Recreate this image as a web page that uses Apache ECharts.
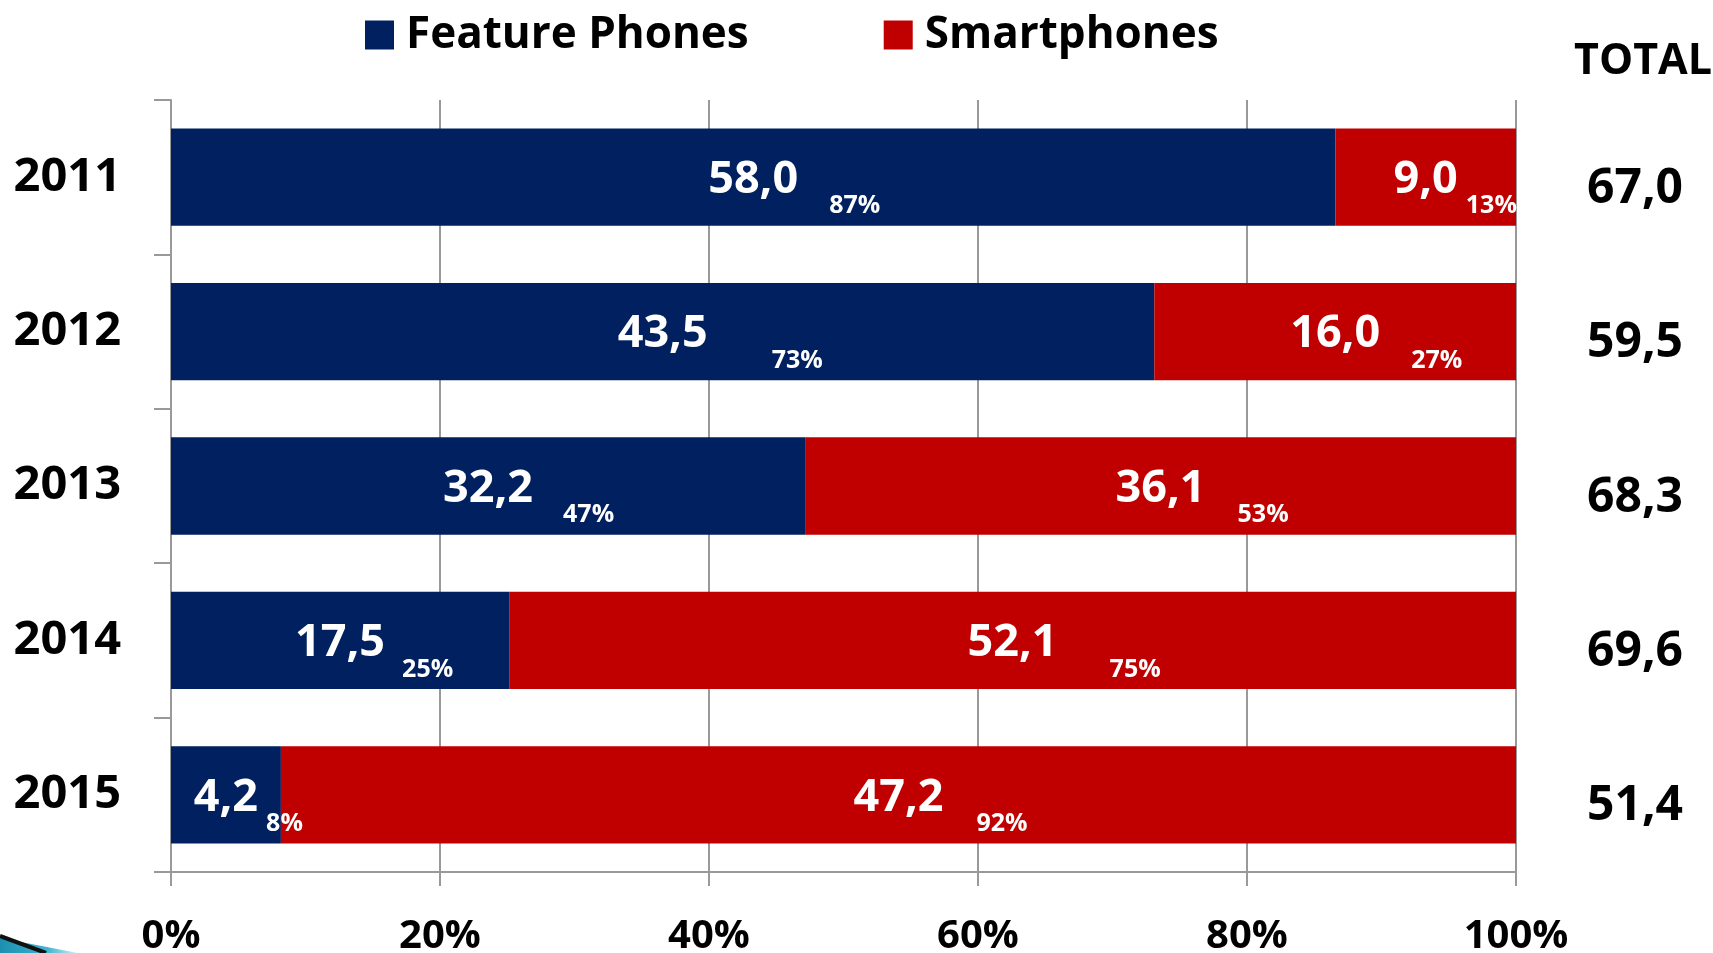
<!DOCTYPE html>
<html>
<head>
<meta charset="utf-8">
<script src="https://cdn.jsdelivr.net/npm/echarts@6/dist/echarts.min.js"></script>
<style>
  html, body { margin: 0; padding: 0; background: #ffffff; }
  #chart { width: 1713px; height: 953px; }
</style>
</head>
<body>
<div id="chart"></div>
<script>
// data
const years = ['2011', '2012', '2013', '2014', '2015'];
const featurePhones = [58.0, 43.5, 32.2, 17.5, 4.2];
const smartphones = [9.0, 16.0, 36.1, 52.1, 47.2];
const seriesNames = ['Feature Phones', 'Smartphones'];

// gap between each value and its small percentage (layout only)
const featureGap = [31, 64, 30, 17, 8];
const smartGap = [8, 31, 32, 52, 33];

const FONT = "'Open Sans', sans-serif";
const NAVY = '#002060';
const RED = '#C00000';
const GREY = '#999999';

const totals = featurePhones.map((v, i) => v + smartphones[i]);
const featureShare = featurePhones.map((v, i) => v / totals[i] * 100);
const smartShare = smartphones.map((v, i) => v / totals[i] * 100);

const fmt = v => v.toFixed(1).replace('.', ',');

// big value centred in the bar, percentage hanging to the right of it
function makeLabel(values, gaps) {
  const rich = {
    v: { fontSize: 45, fontWeight: 'bold', color: '#fff', fontFamily: FONT, padding: [6, 0, 0, 0] }
  };
  gaps.forEach((g, i) => {
    rich['l' + i] = { fontSize: 25, fontWeight: 'bold', color: 'rgba(0,0,0,0)', fontFamily: FONT, padding: [58, g, 0, 0] };
    rich['r' + i] = { fontSize: 25, fontWeight: 'bold', color: '#fff', fontFamily: FONT, padding: [58, 0, 0, g] };
  });
  return {
    show: true,
    position: 'inside',
    textBorderWidth: 0,
    rich: rich,
    formatter: p => {
      const i = p.dataIndex;
      const pc = Math.round(p.value) + '%';
      return '{l' + i + '|' + pc + '}{v|' + fmt(values[i]) + '}{r' + i + '|' + pc + '}';
    }
  };
}

const chart = echarts.init(document.getElementById('chart'));

chart.setOption({
  animation: false,
  backgroundColor: '#ffffff',
  title: {
    text: 'TOTAL',
    left: 1574,
    top: 40,
    padding: 0,
    textStyle: { fontSize: 43, fontWeight: 'bold', color: '#000', fontFamily: FONT }
  },
  legend: {
    data: seriesNames,
    left: 365,
    top: 13,
    padding: 0,
    icon: 'rect',
    itemWidth: 29,
    itemHeight: 29,
    itemGap: 135,
    textStyle: { fontSize: 44, fontWeight: 'bold', color: '#000', fontFamily: FONT, padding: [0, 0, 0, 7] }
  },
  grid: { left: 171, right: 197, top: 100, bottom: 81, outerBoundsMode: 'none' },
  xAxis: {
    type: 'value',
    min: 0,
    max: 100,
    interval: 20,
    axisLabel: { formatter: '{value}%', fontSize: 40, fontWeight: 'bold', color: '#000', fontFamily: FONT, margin: 45 },
    axisLine: { show: true, lineStyle: { color: GREY, width: 2 } },
    axisTick: { show: true, length: 14, lineStyle: { color: GREY, width: 2 } },
    splitLine: { show: true, lineStyle: { color: GREY, width: 2 } }
  },
  yAxis: [
    {
      type: 'category',
      data: years,
      inverse: true,
      axisLine: { show: true, lineStyle: { color: GREY, width: 2 } },
      axisTick: { show: true, length: 17, lineStyle: { color: GREY, width: 2 } },
      axisLabel: { fontSize: 47, fontWeight: 'bold', color: '#000', fontFamily: FONT, margin: 50 }
    },
    {
      type: 'category',
      data: totals.map(fmt),
      inverse: true,
      position: 'right',
      axisLine: { show: false },
      axisTick: { show: false },
      splitLine: { show: false },
      axisLabel: {
        margin: 71,
        formatter: v => '{t|' + v + '}',
        rich: { t: { fontSize: 48, fontWeight: 'bold', color: '#000', fontFamily: FONT, padding: [24, 0, 0, 0] } }
      }
    }
  ],
  series: [
    {
      name: seriesNames[0],
      type: 'bar',
      stack: 'share',
      barCategoryGap: '37%',
      itemStyle: { color: NAVY },
      label: makeLabel(featurePhones, featureGap),
      data: featureShare
    },
    {
      name: seriesNames[1],
      type: 'bar',
      stack: 'share',
      barCategoryGap: '37%',
      itemStyle: { color: RED },
      label: makeLabel(smartphones, smartGap),
      data: smartShare
    }
  ],
  graphic: [
    {
      type: 'polygon',
      shape: { points: [[0, 938], [78, 953], [0, 953]] },
      style: {
        fill: new echarts.graphic.LinearGradient(0, 0, 1, 0, [
          { offset: 0, color: '#1a8fb0' },
          { offset: 0.6, color: '#3fb3cf' },
          { offset: 1, color: '#d6f1f8' }
        ])
      }
    },
    {
      type: 'line',
      shape: { x1: 0, y1: 936, x2: 46, y2: 953 },
      style: { stroke: '#111', lineWidth: 4 }
    }
  ]
});
</script>
</body>
</html>
